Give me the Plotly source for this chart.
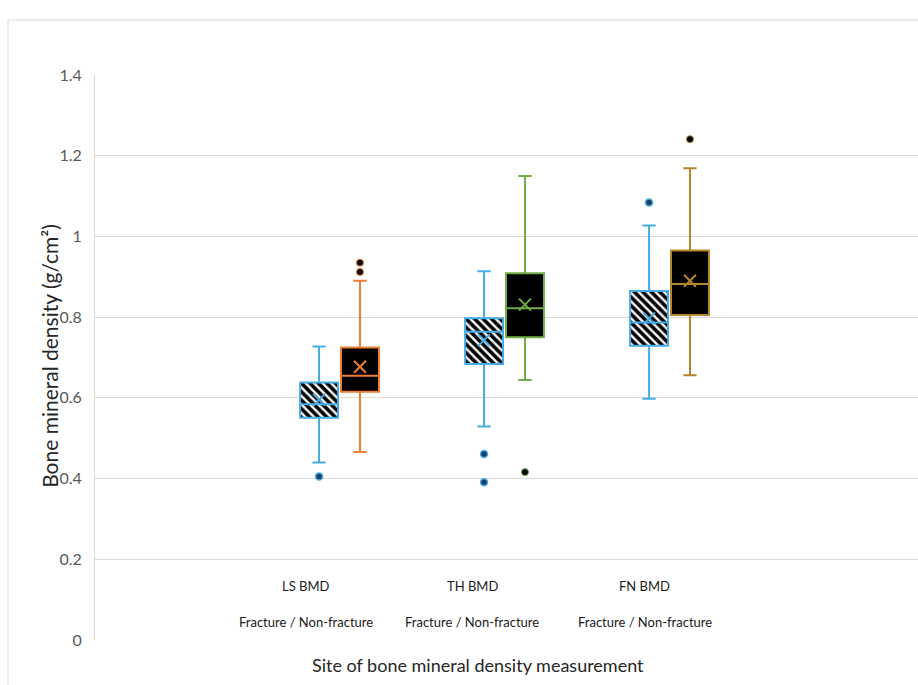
import plotly.graph_objects as go

# ---- data ----
sites = ["LS BMD", "TH BMD", "FN BMD"]
site_pos = [1, 2, 3]

frac_q1 = [0.551, 0.684, 0.729]
frac_median = [0.584, 0.764, 0.787]
frac_q3 = [0.638, 0.797, 0.865]
frac_low = [0.440, 0.529, 0.598]
frac_high = [0.727, 0.914, 1.027]
frac_mean = [0.595, 0.743, 0.797]
frac_outliers = [[0.405], [0.461, 0.391], [1.084]]

nonf_q1 = [0.615, 0.750, 0.805]
nonf_median = [0.655, 0.822, 0.882]
nonf_q3 = [0.725, 0.909, 0.965]
nonf_low = [0.466, 0.644, 0.656]
nonf_high = [0.890, 1.150, 1.169]
nonf_mean = [0.677, 0.831, 0.890]
nonf_outliers = [[0.935, 0.912], [0.416], [1.241]]

label_line1 = ["LS BMD", "TH BMD", "FN BMD"]
label_line2 = ["Fracture / Non-fracture"] * 3
label_x = [0.797, 1.803, 2.85]

# ---- styles ----
frac_color = "#45ACE6"
nonf_colors = ["#ED7D31", "#70AD47", "#B5852A"]
offset = 0.124
bw = 0.23
font_family = "Lato, 'Open Sans', Arial, sans-serif"

fig = go.Figure()

frac_x = [p - offset for p in site_pos]
nonf_x = [p + offset for p in site_pos]

# hatched fill for fracture boxes
fig.add_trace(go.Bar(
    x=frac_x, base=frac_q1, y=[q3 - q1 for q1, q3 in zip(frac_q1, frac_q3)],
    width=bw,
    marker=dict(color="white",
                pattern=dict(shape="\\", fgcolor="black", bgcolor="white", size=6,
                             solidity=0.6, fgopacity=1),
                line=dict(width=0)),
    hoverinfo="skip", showlegend=False))

# boxes
for i in range(3):
    fig.add_trace(go.Box(
        x=[frac_x[i]], q1=[frac_q1[i]], median=[frac_median[i]], q3=[frac_q3[i]],
        lowerfence=[frac_low[i]], upperfence=[frac_high[i]],
        width=bw, whiskerwidth=0.35,
        fillcolor="rgba(0,0,0,0)", line=dict(color=frac_color, width=2),
        boxpoints=False, showlegend=False, hoverinfo="skip"))
    fig.add_trace(go.Box(
        x=[nonf_x[i]], q1=[nonf_q1[i]], median=[nonf_median[i]], q3=[nonf_q3[i]],
        lowerfence=[nonf_low[i]], upperfence=[nonf_high[i]],
        width=bw, whiskerwidth=0.35,
        fillcolor="black", line=dict(color=nonf_colors[i], width=2),
        boxpoints=False, showlegend=False, hoverinfo="skip"))

# means
for i in range(3):
    fig.add_trace(go.Scatter(
        x=[frac_x[i]], y=[frac_mean[i]], mode="markers",
        marker=dict(symbol="x-thin-open", size=12, color=frac_color,
                    line=dict(color=frac_color, width=2)),
        showlegend=False, hoverinfo="skip"))
    fig.add_trace(go.Scatter(
        x=[nonf_x[i]], y=[nonf_mean[i]], mode="markers",
        marker=dict(symbol="x-thin-open", size=12, color=nonf_colors[i],
                    line=dict(color=nonf_colors[i], width=2)),
        showlegend=False, hoverinfo="skip"))

# outliers
for i in range(3):
    fig.add_trace(go.Scatter(
        x=[frac_x[i]] * len(frac_outliers[i]), y=frac_outliers[i], mode="markers",
        marker=dict(symbol="circle", size=7, color="#1C3F66",
                    line=dict(color=frac_color, width=1.5)),
        showlegend=False, hoverinfo="skip"))
    fig.add_trace(go.Scatter(
        x=[nonf_x[i]] * len(nonf_outliers[i]), y=nonf_outliers[i], mode="markers",
        marker=dict(symbol="circle", size=7, color="black",
                    line=dict(color=nonf_colors[i], width=1)),
        showlegend=False, hoverinfo="skip"))

annotations = []
for i in range(3):
    annotations.append(dict(x=label_x[i], y=0.134, xref="x", yref="y", text=label_line1[i],
                            showarrow=False, font=dict(size=13, color="#1a1a1a", family=font_family)))
    annotations.append(dict(x=label_x[i], y=0.045, xref="x", yref="y", text=label_line2[i],
                            showarrow=False, font=dict(size=13, color="#1a1a1a", family=font_family)))

annotations.append(dict(x=0.4648, y=0, xref="paper", yref="paper", yanchor="middle", yshift=-25,
                        text="Site of bone mineral density measurement", showarrow=False,
                        font=dict(size=18, color="#262626", family=font_family)))
annotations.append(dict(x=-0.0729, y=0.502, xref="paper", yref="paper", textangle=-90,
                        text="Bone mineral density (g/cm²)", showarrow=False,
                        font=dict(size=21, color="#262626", family=font_family)))

fig.update_layout(
    width=918, height=685,
    margin=dict(l=95, r=0, t=75, b=45),
    paper_bgcolor="white", plot_bgcolor="white",
    showlegend=False,
    barmode="overlay", boxmode="overlay",
    font=dict(family=font_family),
    annotations=annotations,
    shapes=[dict(type="rect", xref="paper", yref="paper",
                 x0=-0.1057, x1=1.05, y0=-0.2, y1=1.0973,
                 line=dict(color="#D9D9D9", width=1), fillcolor="rgba(0,0,0,0)", layer="below")],
    xaxis=dict(range=[-0.482, 4.506], showgrid=False, zeroline=False, showline=False,
               showticklabels=False, ticks=""),
    yaxis=dict(range=[0, 1.4], dtick=0.2, showgrid=True, gridcolor="#D9D9D9", gridwidth=1,
               zeroline=False, showline=True, linecolor="#D9D9D9", linewidth=1,
               ticks="outside", ticklen=9, tickcolor="rgba(0,0,0,0)",
               tickfont=dict(size=16, color="#595959", family=font_family)),
)

fig.write_html("out.html", config={"displayModeBar": False},
               post_script="document.body.style.margin='0';document.body.style.overflow='hidden';")
